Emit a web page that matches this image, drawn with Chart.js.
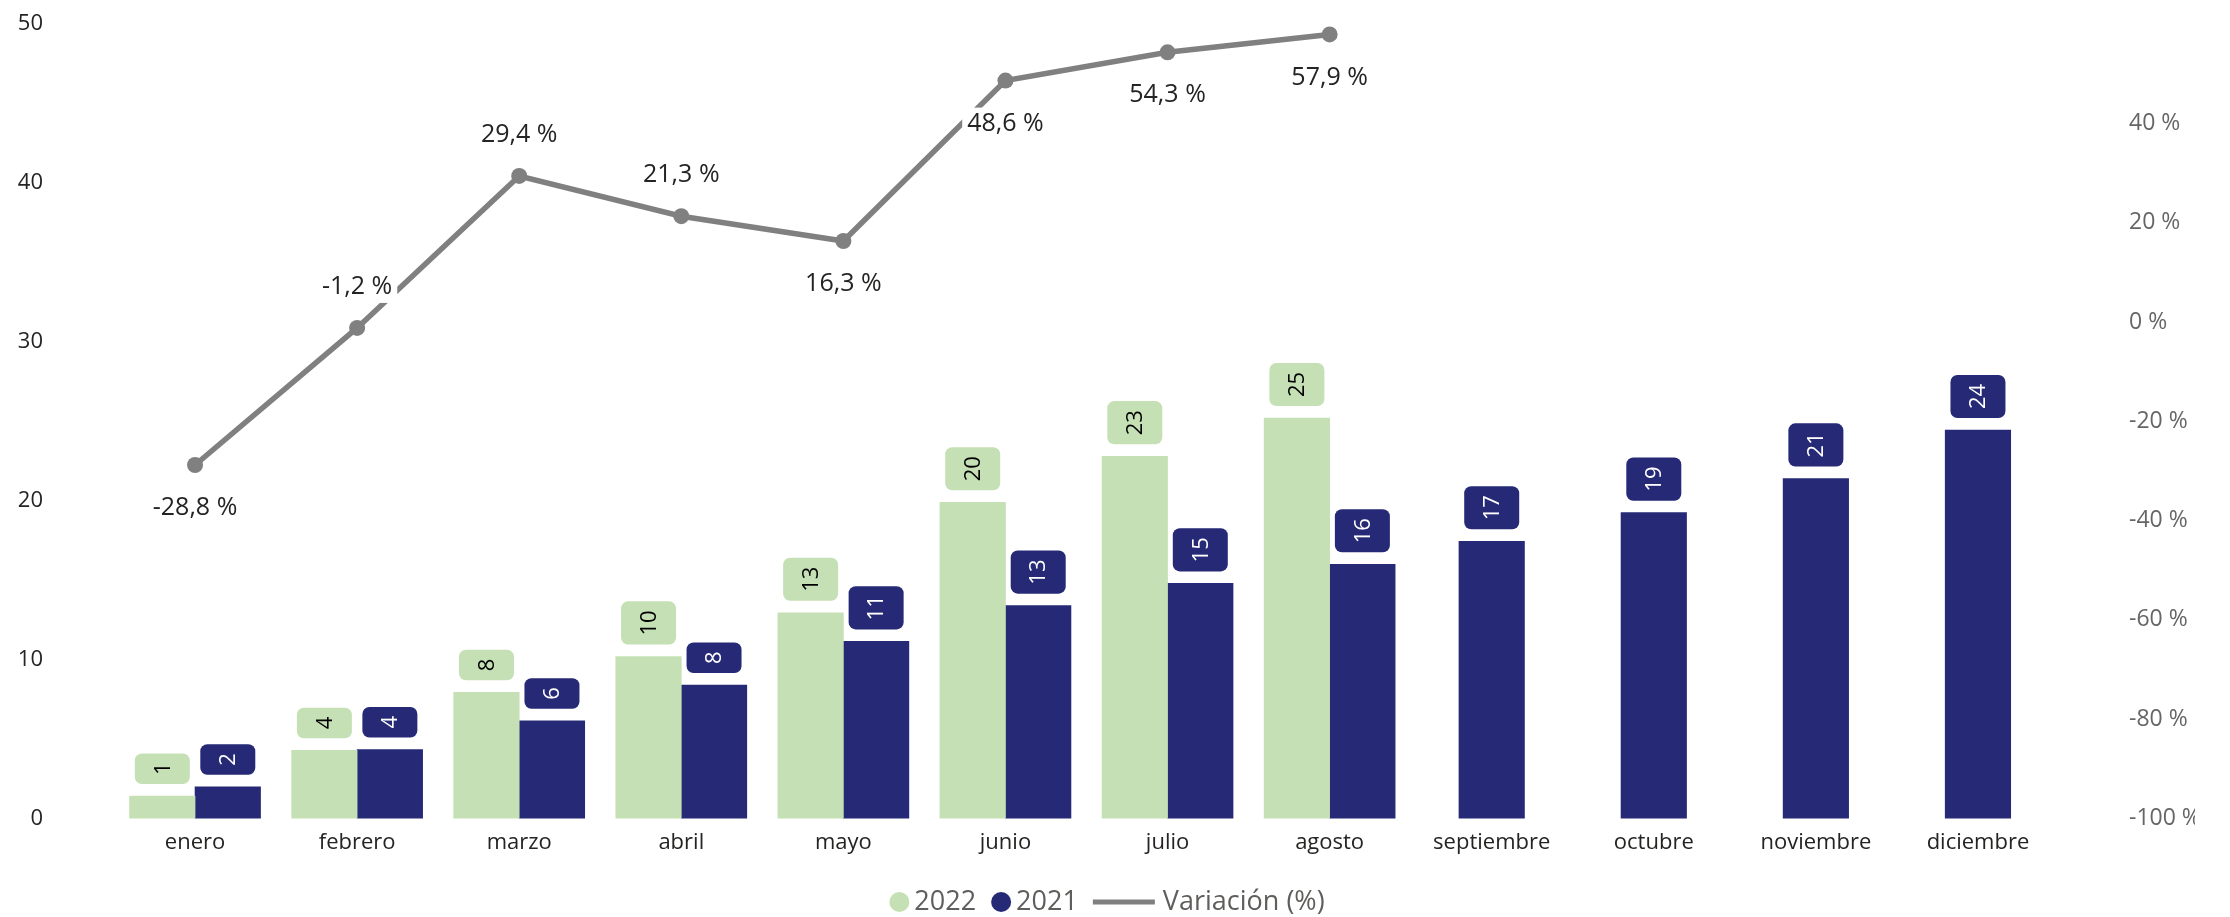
<!DOCTYPE html>
<html lang="es">
<head>
<meta charset="utf-8">
<title>Variación mensual 2022 vs 2021</title>
<script src="https://cdn.jsdelivr.net/npm/chart.js@4/dist/chart.umd.min.js"></script>
<style>
  html, body { margin: 0; padding: 0; background: #fff; }
  #wrap { width: 2230px; height: 917px; position: relative; }
</style>
</head>
<body>
<div id="wrap"><canvas id="chart"></canvas></div>
<script>
// -------- Data --------
const months = ["enero","febrero","marzo","abril","mayo","junio","julio","agosto","septiembre","octubre","noviembre","diciembre"];
const values2022 = [1.42, 4.3, 7.95, 10.2, 12.95, 19.9, 22.8, 25.2, null, null, null, null];
const values2021 = [2.0, 4.35, 6.15, 8.4, 11.15, 13.4, 14.8, 16.0, 17.45, 19.25, 21.4, 24.45];
const variation = [-28.8, -1.2, 29.4, 21.3, 16.3, 48.6, 54.3, 57.9, null, null, null, null];
const leftTicks = [0, 10, 20, 30, 40, 50];
const rightTicks = [-100, -80, -60, -40, -20, 0, 20, 40];

const GREEN = "#C5E0B4";
const NAVY = "#262A76";
const GRAY = "#808080";
const FONT = "'Segoe UI', 'Open Sans', sans-serif";

const pctFmt = v => v.toFixed(1).replace(".", ",") + " %";

// where the line labels sit: above or below the point
const lineLabelPos = ["below","above","above","above","below","below","below","below"];

// -------- Labels on bars and line --------
const valueLabels = {
  id: "valueLabels",
  afterDatasetsDraw(chart) {
    const ctx = chart.ctx;
    chart.data.datasets.forEach((ds, di) => {
      const meta = chart.getDatasetMeta(di);
      meta.data.forEach((el, i) => {
        const v = ds.data[i];
        if (v === null || v === undefined) return;
        ctx.save();
        if (ds.type === "line") {
          const txt = pctFmt(v);
          ctx.font = "25px " + FONT;
          const w = ctx.measureText(txt).width;
          const y = el.y + (lineLabelPos[i] === "above" ? -41 : 43);
          ctx.fillStyle = "#fff";
          ctx.fillRect(el.x - w / 2 - 5, y - 16, w + 10, 32);
          ctx.fillStyle = "#252423";
          ctx.textAlign = "center";
          ctx.textBaseline = "middle";
          ctx.fillText(txt, el.x, y);
        } else {
          // box grows with the rotated text
          const txt = String(Math.round(v));
          ctx.font = "22px " + FONT;
          const bw = 55, gap = 12;
          const bh = ctx.measureText(txt).width + 18;
          const bottom = el.y - gap;
          ctx.fillStyle = ds.backgroundColor;
          ctx.beginPath();
          ctx.roundRect(el.x - bw / 2, bottom - bh, bw, bh, 7);
          ctx.fill();
          ctx.translate(el.x, bottom - bh / 2);
          ctx.rotate(-Math.PI / 2);
          ctx.fillStyle = ds.labelColor;
          ctx.textAlign = "center";
          ctx.textBaseline = "middle";
          ctx.fillText(txt, 0, 1);
        }
        ctx.restore();
      });
    });
  }
};

// -------- Legend drawn at the bottom --------
const bottomLegend = {
  id: "bottomLegend",
  afterDraw(chart) {
    const ctx = chart.ctx;
    const y = 902;
    ctx.save();
    ctx.font = "27px " + FONT;
    ctx.textBaseline = "middle";
    const items = chart.data.datasets.map(ds => ({
      text: ds.label,
      color: ds.type === "line" ? ds.borderColor : ds.backgroundColor,
      line: ds.type === "line"
    }));
    const widths = items.map(it => (it.line ? 62 + 8 : 20 + 5) + ctx.measureText(it.text).width);
    const total = widths.reduce((a, b) => a + b, 0) + 15 * (items.length - 1);
    let x = 1107 - total / 2;
    items.forEach((it, k) => {
      if (it.line) {
        ctx.strokeStyle = it.color;
        ctx.lineWidth = 5;
        ctx.beginPath();
        ctx.moveTo(x, y);
        ctx.lineTo(x + 62, y);
        ctx.stroke();
        ctx.fillStyle = "#605E5C";
        ctx.fillText(it.text, x + 70, y);
      } else {
        ctx.fillStyle = it.color;
        ctx.beginPath();
        ctx.arc(x + 10, y, 10, 0, Math.PI * 2);
        ctx.fill();
        ctx.fillStyle = "#605E5C";
        ctx.fillText(it.text, x + 25, y);
      }
      x += widths[k] + 15;
    });
    ctx.restore();
  }
};

// keep the axis boxes at fixed widths and drop the extra vertical padding
const fixAxis = width => scale => {
  scale.width = width;
  scale.paddingTop = 11;
  scale.paddingBottom = 11;
};

new Chart(document.getElementById("chart"), {
  data: {
    labels: months,
    datasets: [
      { type: "bar", label: "2022", data: values2022, backgroundColor: GREEN, labelColor: "#000",
        yAxisID: "y", order: 1, skipNull: true, barThickness: 65.5 },
      { type: "bar", label: "2021", data: values2021, backgroundColor: NAVY, labelColor: "#fff",
        yAxisID: "y", order: 1, skipNull: true, barThickness: 65.5 },
      { type: "line", label: "Variación (%)", data: variation, borderColor: GRAY, backgroundColor: GRAY,
        borderWidth: 5.5, pointRadius: 8, pointBackgroundColor: GRAY, pointBorderWidth: 0,
        yAxisID: "y1", order: 0, tension: 0, spanGaps: false }
    ]
  },
  options: {
    responsive: true,
    maintainAspectRatio: false,
    animation: false,
    layout: { padding: { left: 18, right: 35, top: 24, bottom: 50 } },
    plugins: { legend: { display: false }, tooltip: { enabled: false } },
    scales: {
      x: {
        grid: { display: false, drawTicks: false },
        border: { display: false },
        ticks: { color: "#252423", font: { family: FONT, size: 22 }, padding: 11, maxRotation: 0 }
      },
      y: {
        position: "left",
        min: 0, max: 50,
        grid: { display: false, drawTicks: false },
        border: { display: false },
        afterBuildTicks: s => { s.ticks = leftTicks.map(v => ({ value: v })); },
        afterFit: fixAxis(96),
        ticks: { color: "#252423", font: { family: FONT, size: 22 }, padding: 71 }
      },
      y1: {
        position: "right",
        min: -100, max: 60,
        grid: { display: false, drawTicks: false },
        border: { display: false },
        afterBuildTicks: s => { s.ticks = rightTicks.map(v => ({ value: v })); },
        afterFit: fixAxis(136),
        ticks: { color: "#666666", font: { family: FONT, size: 23 }, padding: 70,
          callback: v => v + " %" }
      }
    }
  },
  plugins: [valueLabels, bottomLegend]
});
</script>
</body>
</html>
